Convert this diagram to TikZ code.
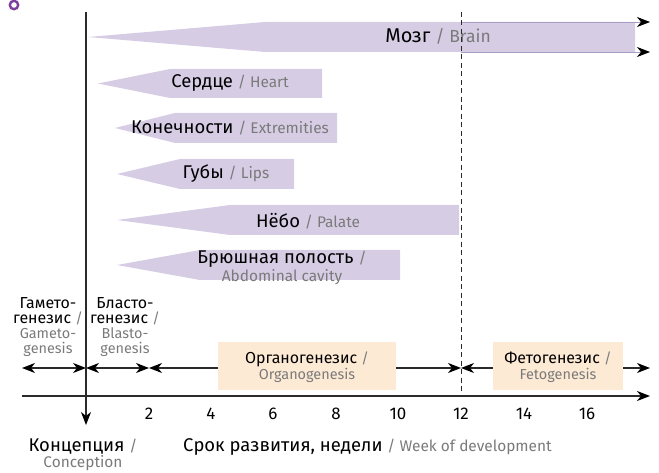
\documentclass[tikz,border=0pt]{standalone}
\usepackage{fontspec}
\setmainfont{Fira Sans}
\usetikzlibrary{arrows.meta}
\definecolor{lav}{HTML}{D6CDE5}
\definecolor{lavedge}{HTML}{A99CC2}
\definecolor{peach}{HTML}{FDEAD5}
\definecolor{engray}{HTML}{7A7A7A}
\definecolor{ringc}{HTML}{7E3F9E}
\definecolor{linec}{HTML}{2A2A2A}
\newcommand\eng[2][15.5]{{\fontsize{#1}{16}\selectfont\color{engray}#2}}
\newcommand\wedgeshape[5]{\fill[wedge] (#1,#2) -- (#3,#2-#5) -- (#4,#2-#5) -- (#4,#2+#5) -- (#3,#2+#5) -- cycle;}
\begin{document}
\begin{tikzpicture}[x=1bp,y=-1bp,
  wedge/.style={fill=lav,draw=none},
  lbl/.style={font=\fontsize{18.5}{18}\selectfont, text=black, inner sep=0pt, align=center},
  lblP/.style={lbl, font=\fontsize{16}{16}\selectfont},
  lblG/.style={lbl, font=\fontsize{16}{15}\selectfont},
  tipr/.style={-{Stealth[length=13bp,width=10bp,inset=4bp,color=black]}},
  tipb/.style={{Stealth[length=13bp,width=10bp,inset=4bp,color=black]}-{Stealth[length=13bp,width=10bp,inset=4bp,color=black]}},
  phase/.style={draw=linec, line width=1.2bp},
  pbox/.style={fill=peach, draw=none},
  num/.style={font=\fontsize{17}{17}\selectfont, inner sep=0pt}
]
\useasboundingbox (0,0) rectangle (659,473);
% ring
\draw[ringc, line width=2.4bp] (14,5) circle (4.2);
% wedges
\wedgeshape{88}{37}{265}{635}{15}
\wedgeshape{98}{83.5}{170}{322}{14.5}
\wedgeshape{115}{128}{175}{337}{15}
\wedgeshape{117}{174}{180}{294}{15}
\wedgeshape{117}{220}{230}{459}{15}
\wedgeshape{117}{265}{200}{400}{15}
% brain arrows
\coordinate (bt0) at (461,22); \coordinate (bt1) at (650,22);
\coordinate (bb0) at (461,52); \coordinate (bb1) at (650,52);
\draw[lavedge, line width=0.8bp, tipr] (bt0) -- (bt1);
\draw[lavedge, line width=0.8bp, tipr] (bb0) -- (bb1);
% labels on wedges
\node[lbl, font=\fontsize{20}{18}\selectfont] (brain) at (438,36) {Мозг \eng[17.5]{/ Brain}};
\node[lbl] (heart) at (230,83) {Сердце \eng{/ Heart}};
\node[lbl] (ext) at (230,128) {Конечности \eng{/ Extremities}};
\node[lbl] (lips) at (226,174) {Губы \eng{/ Lips}};
\node[lbl] (palate) at (308,221) {Нёбо \eng{/ Palate}};
\node[lbl] (abd) at (282,268) {Брюшная полость \eng{/}\\\eng{Abdominal cavity}};
% axis coordinates
\coordinate (vtop) at (86,12); \coordinate (vbot) at (86,425);
\coordinate (dtop) at (461,12); \coordinate (dbot) at (461,396);
\coordinate (ax0) at (22,396); \coordinate (ax1) at (650,396);
\coordinate (p0) at (22,368); \coordinate (p1) at (86,368); \coordinate (p2) at (149,368);
\coordinate (p3) at (461,368); \coordinate (p4) at (650,368);
% dashed line
\draw[linec, line width=1bp, dash pattern=on 5bp off 3.5bp] (dtop) -- (dbot);
% phase arrows
\draw[phase, tipb] (p0) -- (p1);
\draw[phase, tipb] (p1) -- (p2);
\draw[phase, tipb] (p2) -- (p3);
\draw[phase, tipb] (p3) -- (p4);
% phase boxes
\fill[pbox] (218,342) rectangle (396,390);
\fill[pbox] (493,342) rectangle (623,390);
\node[lblP] (organo) at (307,367) {Органогенезис \eng[14.5]{/}\\\eng[14.5]{Organogenesis}};
\node[lblP] (feto) at (558,367) {Фетогенезис \eng[14.5]{/}\\\eng[14.5]{Fetogenesis}};
\node[lblG] (gameto) at (48,327) {Гамето-\\генезис \eng[14.5]{/}\\\eng[14.5]{Gameto-}\\\eng[14.5]{genesis}};
\node[lblG] (blasto) at (125,327) {Бласто-\\генезис \eng[14.5]{/}\\\eng[14.5]{Blasto-}\\\eng[14.5]{genesis}};
% main axis
\draw[line width=2bp, linec, tipr] (ax0) -- (ax1);
\draw[line width=1.3bp, linec, tipr] (vtop) -- (vbot);
% numbers
\foreach \w/\x in {2/149,4/211,6/273,8/336,10/398,12/461,14/524,16/587}
  \node[num] (n\w) at (\x,414) {\w};
\node[lbl, font=\fontsize{18.5}{16}\selectfont] (concep) at (83,455) {Концепция \eng{/}\\\eng{Conception}};
\node[lbl, anchor=west] (weeks) at (183,447) {Срок развития, недели \eng{/ Week of development}};
\end{tikzpicture}
\end{document}
